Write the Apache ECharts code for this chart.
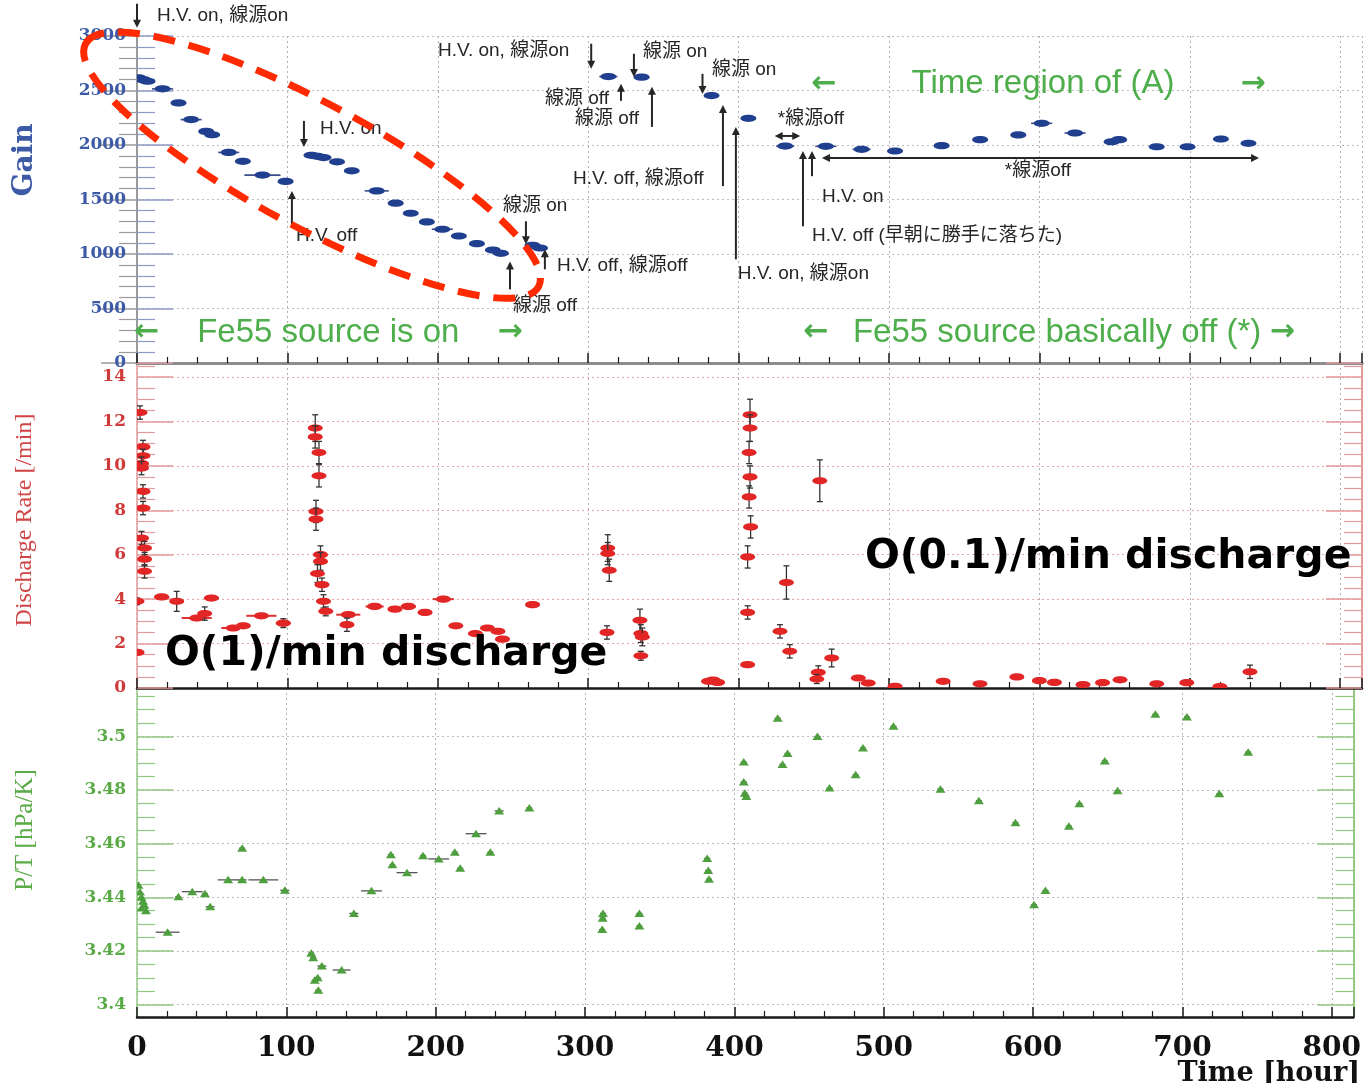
<!DOCTYPE html>
<html><head><meta charset="utf-8">
<script src="https://cdn.jsdelivr.net/npm/echarts@6/dist/echarts.min.js"></script>
<style>html,body{margin:0;padding:0;background:#fff}#c{width:1364px;height:1083px}</style>
</head><body><div id="c"></div>
<script>
// ---------- data (hours, value, half-span in hours, [error]) ----------
const hourTicks = [0, 100, 200, 300, 400, 500, 600, 700, 800];
const gainTicks = [0, 500, 1000, 1500, 2000, 2500, 3000];
const rateTicks = [0, 2, 4, 6, 8, 10, 12, 14];
const ptTicks = [3.4, 3.42, 3.44, 3.46, 3.48, 3.5];

const gainPoints = [
  [1, 2615, 3], [4, 2600, 3], [7, 2585, 3], [17, 2515, 7], [27.6, 2386, 3], [36, 2233, 7],
  [46, 2125, 3], [50, 2094, 3], [61, 1932, 7], [70.4, 1850, 3], [83.4, 1724, 12], [98.8, 1666, 4],
  [116, 1905, 3], [120, 1896, 4], [124, 1885, 3], [133, 1846, 4], [142.8, 1763, 4], [159.4, 1579, 8],
  [172, 1466, 4], [182, 1374, 4], [192.7, 1294, 4], [203, 1227, 7], [214, 1165, 4], [226, 1095, 5],
  [236.6, 1036, 4], [242, 1006, 4], [263, 1080, 3], [268, 1055, 3],
  [313.4, 2628, 6], [335.5, 2622, 5], [382, 2453, 5], [406.5, 2245, 5],
  [431, 1990, 6], [458, 1988, 7], [481.8, 1960, 6], [504, 1945, 4], [535, 1994, 3], [560.6, 2049, 3],
  [586, 2092, 3], [601.5, 2199, 7], [623.7, 2110, 7], [648, 2030, 3], [653, 2049, 3], [678, 1984, 3],
  [698.5, 1984, 3], [720.7, 2055, 3], [739, 2015, 3]
];

const dischargePoints = [
  [2, 12.4, 2, 0.3], [4, 10.85, 2, 0.3], [4, 10.45, 2, 0.3], [3, 10.1, 2, 0.3], [3, 9.9, 2, 0.3],
  [4, 8.85, 2, 0.3], [4, 8.1, 2, 0.3], [3, 6.75, 2, 0.3], [5, 6.3, 2, 0.3], [5, 5.8, 2, 0.3],
  [5, 5.25, 2, 0.3], [0, 3.9, 3, 0.15], [0, 1.6, 3, 0.1], [16.4, 4.1, 5, 0.1], [26.4, 3.9, 3, 0.45],
  [39.7, 3.15, 10, 0.1], [45, 3.35, 3, 0.3], [49.5, 4.05, 5, 0.1], [64, 2.7, 8, 0.1], [70.7, 2.8, 3, 0.1],
  [82.7, 3.25, 10, 0.1], [97.3, 2.92, 5, 0.2],
  [118.5, 11.7, 2, 0.6], [118.5, 11.3, 2, 0.5], [121, 10.6, 2, 0.5], [121, 9.55, 2, 0.5], [119, 7.95, 2, 0.5],
  [119, 7.6, 2, 0.5], [122, 6.0, 2, 0.4], [122, 5.7, 2, 0.4], [120, 5.15, 2, 0.4], [123, 4.65, 2, 0.3],
  [124, 3.9, 2, 0.3], [125.5, 3.45, 3, 0.2], [140.5, 3.3, 8, 0.1], [139.6, 2.85, 2, 0.3],
  [158, 3.67, 6, 0.1], [171.5, 3.55, 4, 0.1], [180.4, 3.67, 5, 0.1], [191.5, 3.4, 4, 0.1], [203.7, 4.0, 7, 0.1],
  [212, 2.8, 4, 0.1], [225, 2.45, 4, 0.1], [233, 2.7, 3, 0.1], [240, 2.55, 3, 0.1], [243, 2.2, 3, 0.1],
  [263, 3.75, 3, 0.1],
  [313, 6.3, 3, 0.6], [313, 6.05, 3, 0.5], [314, 5.3, 3, 0.5], [312.5, 2.5, 3, 0.3],
  [334.4, 3.05, 3, 0.5], [335, 2.45, 3, 0.4], [336, 2.3, 3, 0.4], [335, 1.45, 3, 0.2],
  [380, 0.3, 4, 0.1], [383, 0.35, 4, 0.1], [386, 0.25, 3, 0.1],
  [407.6, 12.3, 3, 0.7], [407.6, 11.7, 3, 0.6], [407, 10.6, 3, 0.5], [407.6, 9.5, 3, 0.5], [407, 8.6, 3, 0.5],
  [408, 7.25, 3, 0.5], [406, 5.9, 3, 0.5], [406, 3.4, 3, 0.3], [406, 1.05, 3, 0.1],
  [454, 9.33, 4, 0.94], [431.8, 4.75, 3, 0.75], [427.5, 2.55, 3, 0.3], [434, 1.65, 3, 0.3],
  [461.9, 1.35, 3, 0.4], [453, 0.7, 3, 0.3], [452, 0.4, 3, 0.2], [479.6, 0.45, 3, 0.1], [486.2, 0.22, 3, 0.1],
  [504, 0.07, 3, 0.05], [536, 0.3, 3, 0.1], [560.5, 0.19, 3, 0.1], [585, 0.5, 3, 0.1], [600, 0.33, 3, 0.1],
  [610, 0.25, 3, 0.1], [629, 0.15, 3, 0.1], [642, 0.24, 3, 0.1], [653.6, 0.37, 3, 0.1], [678, 0.19, 3, 0.1],
  [698, 0.24, 3, 0.1], [720, 0.06, 3, 0.05], [740, 0.73, 3, 0.3]
];

const ptPoints = [
  [1, 3.4445, 1], [2, 3.442, 1], [3, 3.440, 1], [4, 3.4385, 1], [5, 3.437, 1], [6, 3.435, 1], [3, 3.436, 1],
  [20.5, 3.427, 8], [27.7, 3.4402, 2], [37, 3.4421, 7], [45.5, 3.4413, 2], [49, 3.4365, 3],
  [61, 3.4465, 7], [70.4, 3.4465, 3], [84.6, 3.4465, 10], [70.4, 3.4583, 2], [99, 3.4426, 3],
  [116.7, 3.4192, 2], [118, 3.4175, 2], [123.8, 3.4144, 3], [119, 3.4091, 2], [121, 3.410, 2], [121.4, 3.4054, 2],
  [137, 3.4129, 6], [145.2, 3.434, 3], [157, 3.4424, 7], [170, 3.4559, 2], [171, 3.4521, 2], [180.8, 3.4492, 7],
  [191.5, 3.4555, 2], [202, 3.4543, 7], [212.8, 3.4568, 2], [216.4, 3.4508, 2], [227, 3.4637, 7],
  [236.6, 3.4568, 2], [242.5, 3.4722, 3], [262.7, 3.4733, 2],
  [311.8, 3.4322, 2], [312, 3.434, 2], [311.5, 3.428, 2], [336.4, 3.434, 2], [336.4, 3.4293, 2],
  [381.8, 3.4545, 2], [382.5, 3.450, 2], [383, 3.4467, 2],
  [406.3, 3.4904, 2], [406.3, 3.483, 2], [407, 3.4788, 2], [408, 3.4776, 2],
  [429, 3.5067, 2], [435.6, 3.4936, 2], [432.2, 3.4895, 2], [455.6, 3.4999, 2], [463.7, 3.4807, 2],
  [481.2, 3.4857, 2], [486.1, 3.4956, 2], [506.5, 3.5037, 2], [538, 3.4803, 2], [563.7, 3.476, 2],
  [588.2, 3.4678, 2], [600.6, 3.4372, 2], [608.3, 3.4425, 2], [624, 3.4665, 2], [631, 3.4749, 2],
  [648, 3.4908, 2], [656.6, 3.4797, 2], [681.9, 3.5082, 2], [703, 3.5072, 2], [724.7, 3.4786, 2], [744, 3.4941, 2]
];

// annotations in the Gain panel: [hour, gain tail, gain head]
const gainArrows = [
  [0, 3297, 3076], [111, 2221, 1982], [103, 1264, 1577], [302, 2929, 2699], [330.4, 2837, 2625],
  [376, 2653, 2469], [321.8, 2405, 2561], [342.4, 2166, 2534], [389.6, 1623, 2368], [398.2, 951, 2166],
  [442.8, 1254, 1945], [448.8, 1714, 1945], [258.6, 1300, 1089], [271.2, 859, 1043], [248, 675, 932]
];
// double-headed horizontal arrows: [hour from, hour to, gain]
const gainSpans = [[424, 441, 2083], [455.4, 746, 1880]];
// [text, hour (left edge), gain (middle)]
const gainNotes = [
  ['H.V. on, 線源on', 13.3, 3187], ['H.V. on', 121.7, 2147], ['H.V. off', 105.7, 1163],
  ['H.V. on, 線源on', 200.1, 2865], ['線源 on', 336.4, 2855], ['線源 on', 382.3, 2690],
  ['線源 off', 271.2, 2423], ['線源 off', 291.2, 2239], ['H.V. off, 線源off', 289.9, 1687],
  ['H.V. on, 線源on', 399.4, 822], ['*線源off', 426.1, 2239], ['H.V. on', 455.4, 1521],
  ['H.V. off (早朝に勝手に落ちた)', 448.8, 1171], ['*線源off', 577, 1761], ['線源 on', 243.3, 1439],
  ['H.V. off, 線源off', 279.2, 895], ['線源 off', 250, 527]
];
// [text, hour, gain, align, isArrow]
const greenNotes = [
  ['←', 6.6, 278, 'center', true], ['Fe55 source is on', 40, 278, 'left', false], ['→', 248, 278, 'center', true],
  ['←', 456.8, 2561, 'center', true], ['Time region of (A)', 515, 2561, 'left', false], ['→', 742, 2561, 'center', true],
  ['←', 451.5, 278, 'center', true], ['Fe55 source basically off (*)', 476, 278, 'left', false], ['→', 761.5, 278, 'center', true]
];

// ---------- chart ----------
const chart = echarts.init(document.getElementById('c'), null, {renderer: 'canvas'});
const XMAX = 814.5;
const serif = '"DejaVu Serif", "Liberation Serif", serif';
const grids = [
  {left: 137, right: 2, top: 36, height: 327},
  {left: 137, right: 2, top: 363, height: 325},
  {left: 137, right: 2, top: 688, height: 329}
];
const plain = v => String(v);
function xAx(g, showLabel) {
  return {
    type: 'value', gridIndex: g, min: 0, max: XMAX, interval: 100,
    axisLine: {show: true, onZero: false, lineStyle: {color: '#1a1a1a', width: 2.5}},
    axisTick: {show: true, inside: true, length: 10, lineStyle: {color: '#1a1a1a', width: 1.5}},
    minorTick: {show: true, splitNumber: 5, length: 6, lineStyle: {color: '#1a1a1a', width: 1.2}},
    splitLine: {show: true, lineStyle: {color: '#b0b0b0', type: [2, 3], width: 1}},
    axisLabel: {show: showLabel, color: '#111', fontFamily: serif, fontWeight: 'bold', fontSize: 28, margin: 18,
      customValues: hourTicks, formatter: plain}
  };
}
const topFrame = {
  type: 'value', gridIndex: 0, position: 'top', min: 0, max: XMAX,
  axisLine: {show: true, lineStyle: {color: '#8c8c8c', width: 3}},
  axisTick: {show: false}, axisLabel: {show: false}, splitLine: {show: false}
};
function yAx(g, pos, o) {
  const isLeft = pos === 'left';
  const a = {
    type: 'value', gridIndex: g, position: pos, min: o.min, max: o.max,
    axisLine: {show: true, lineStyle: {color: o.line, width: isLeft ? 1.5 : 2}},
    axisTick: {show: true, inside: true, length: 36, lineStyle: {color: o.line, width: 1.5}},
    minorTick: {show: true, splitNumber: o.minor || 5, length: 18, lineStyle: {color: o.line, width: 1.2}},
    splitLine: {show: isLeft, lineStyle: {color: o.grid, type: [2, 3], width: 1}},
    axisLabel: {show: isLeft, color: o.label, fontFamily: serif, fontWeight: 'bold', fontSize: 17, margin: 11,
      showMaxLabel: o.showMax !== false, formatter: plain}
  };
  if (o.interval) a.interval = o.interval;
  if (o.custom) {
    a.axisLabel.customValues = o.custom;
    a.axisTick.customValues = o.custom;
    a.minorTick.show = false;
  }
  return a;
}
const gainOpt = {min: 0, max: 3000, interval: 500, minor: 5, line: '#8d99c4', grid: '#bdbdbd', label: '#3c5aa6'};
const rateOpt = {min: 0, max: 14.63, interval: 2, minor: 4, line: '#e39a9a', grid: '#e8a6a6', label: '#cf3a3a', showMax: false};
const ptOpt = {min: 3.3954, max: 3.518, custom: ptTicks, line: '#93c883', grid: '#bcbcbc', label: '#5aaa46'};
const ptMinor = [];
for (let k = 0; k <= 23; k++) { if (k % 4) ptMinor.push(+(3.4 + 0.005 * k).toFixed(3)); }
function minorAx(pos) {
  return {
    type: 'value', gridIndex: 2, position: pos, min: ptOpt.min, max: ptOpt.max,
    axisLine: {show: false},
    axisTick: {show: true, inside: true, length: 18, customValues: ptMinor, lineStyle: {color: ptOpt.line, width: 1.2}},
    axisLabel: {show: false, customValues: ptMinor}, splitLine: {show: false}
  };
}

function renderGain(params, api) {
  const x = api.value(0), y = api.value(1), dx = api.value(2);
  const c = api.coord([x, y]), l = api.coord([x - dx, y]), r = api.coord([x + dx, y]);
  return {type: 'group', children: [
    {type: 'line', shape: {x1: l[0], y1: l[1], x2: r[0], y2: r[1]}, style: {stroke: '#3a4c86', lineWidth: 1.6}},
    {type: 'ellipse', shape: {cx: c[0], cy: c[1], rx: 8, ry: 3.6}, style: {fill: '#203f8f'}}
  ]};
}
function renderRate(params, api) {
  const x = api.value(0), y = api.value(1), dx = api.value(2), dy = api.value(3);
  const c = api.coord([x, y]), l = api.coord([x - dx, y]), r = api.coord([x + dx, y]);
  const t = api.coord([x, y + dy]), b = api.coord([x, Math.max(0, y - dy)]);
  return {type: 'group', children: [
    {type: 'line', shape: {x1: t[0], y1: t[1], x2: b[0], y2: b[1]}, style: {stroke: '#333', lineWidth: 1.3}},
    {type: 'line', shape: {x1: t[0] - 3, y1: t[1], x2: t[0] + 3, y2: t[1]}, style: {stroke: '#333', lineWidth: 1.3}},
    {type: 'line', shape: {x1: b[0] - 3, y1: b[1], x2: b[0] + 3, y2: b[1]}, style: {stroke: '#333', lineWidth: 1.3}},
    {type: 'line', shape: {x1: l[0], y1: l[1], x2: r[0], y2: r[1]}, style: {stroke: '#e03030', lineWidth: 2}},
    {type: 'ellipse', shape: {cx: c[0], cy: c[1], rx: 7.5, ry: 3.6}, style: {fill: '#e22626'}}
  ]};
}
function renderPT(params, api) {
  const x = api.value(0), y = api.value(1), dx = api.value(2);
  const c = api.coord([x, y]), l = api.coord([x - dx, y]), r = api.coord([x + dx, y]);
  return {type: 'group', children: [
    {type: 'line', shape: {x1: l[0], y1: l[1], x2: r[0], y2: r[1]}, style: {stroke: '#555', lineWidth: 1.3}},
    {type: 'polygon', shape: {points: [[c[0] - 5, c[1] + 3.5], [c[0] + 5, c[1] + 3.5], [c[0], c[1] - 4]]}, style: {fill: '#4e9f3d'}}
  ]};
}

chart.setOption({
  animation: false,
  backgroundColor: '#ffffff',
  grid: grids,
  xAxis: [xAx(0, false), xAx(1, false), xAx(2, true), topFrame],
  yAxis: [
    yAx(0, 'left', gainOpt), yAx(1, 'left', rateOpt), yAx(2, 'left', ptOpt),
    yAx(0, 'right', Object.assign({}, gainOpt, {line: '#9a9a9a'})),
    yAx(1, 'right', rateOpt), yAx(2, 'right', ptOpt),
    minorAx('left'), minorAx('right')
  ],
  series: [
    {type: 'custom', xAxisIndex: 0, yAxisIndex: 0, renderItem: renderGain, data: gainPoints, clip: true, z: 5},
    {type: 'custom', xAxisIndex: 1, yAxisIndex: 1, renderItem: renderRate, data: dischargePoints, clip: true, z: 5},
    {type: 'custom', xAxisIndex: 2, yAxisIndex: 2, renderItem: renderPT, data: ptPoints, clip: true, z: 5}
  ]
});

// ---------- annotations ----------
function gp(x, g) { return chart.convertToPixel({xAxisIndex: 0, yAxisIndex: 0}, [x, g]); }
const ink = '#262626';
const noteFont = '"Liberation Sans", "Noto Sans CJK JP", sans-serif';
const els = [];
function head(tip, dirx, diry) {
  const L = 8, W = 4;
  const bx = tip[0] - dirx * L, by = tip[1] - diry * L;
  return {type: 'polygon', shape: {points: [[tip[0], tip[1]], [bx - diry * W, by + dirx * W], [bx + diry * W, by - dirx * W]]},
    style: {fill: ink}, z: 20};
}
gainArrows.forEach(a => {
  const p1 = gp(a[0], a[1]), p2 = gp(a[0], a[2]);
  const d = p2[1] > p1[1] ? 1 : -1;
  els.push({type: 'line', shape: {x1: p1[0], y1: p1[1], x2: p2[0], y2: p2[1] - d * 6}, style: {stroke: ink, lineWidth: 2}, z: 20});
  els.push(head(p2, 0, d));
});
gainSpans.forEach(s => {
  const p1 = gp(s[0], s[2]), p2 = gp(s[1], s[2]);
  els.push({type: 'line', shape: {x1: p1[0] + 6, y1: p1[1], x2: p2[0] - 6, y2: p2[1]}, style: {stroke: ink, lineWidth: 2}, z: 20});
  els.push(head(p1, -1, 0));
  els.push(head(p2, 1, 0));
});
gainNotes.forEach(n => {
  const p = gp(n[1], n[2]);
  els.push({type: 'text', x: p[0], y: p[1], z: 20,
    style: {text: n[0], fill: '#262626', font: '19px ' + noteFont, align: 'left', verticalAlign: 'middle'}});
});
greenNotes.forEach(n => {
  const p = gp(n[1], n[2]);
  const font = n[4] ? 'bold 30px "DejaVu Sans", sans-serif' : '33px ' + noteFont;
  els.push({type: 'text', x: p[0], y: p[1], z: 20,
    style: {text: n[0], fill: '#4fae4c', font: font, align: n[3], verticalAlign: 'middle'}});
});
// discharge remarks
const r1 = chart.convertToPixel({xAxisIndex: 1, yAxisIndex: 1}, [18.6, 1.5]);
const r2 = chart.convertToPixel({xAxisIndex: 1, yAxisIndex: 1}, [484, 5.9]);
[['O(1)/min discharge', r1], ['O(0.1)/min discharge', r2]].forEach(t => {
  els.push({type: 'text', x: t[1][0], y: t[1][1], z: 30,
    style: {text: t[0], fill: '#000', font: 'bold 41px "DejaVu Sans", sans-serif', align: 'left', verticalAlign: 'middle'}});
});
// dashed highlight ellipse around the Fe55-on gain drop
const ec = gp(116.4, 1815);
els.push({type: 'ellipse', x: ec[0], y: ec[1], rotation: -0.492, z: 40,
  shape: {cx: 0, cy: 0, rx: 257, ry: 62},
  style: {fill: 'none', stroke: '#ff2a00', lineWidth: 7, lineDash: [22, 14]}});
// axis titles
els.push({type: 'text', x: 25, y: 160, rotation: Math.PI / 2, z: 20,
  style: {text: 'Gain', fill: '#3c5aa6', font: 'bold 28px ' + serif, align: 'center', verticalAlign: 'middle'}});
els.push({type: 'text', x: 25, y: 520, rotation: Math.PI / 2, z: 20,
  style: {text: 'Discharge Rate [/min]', fill: '#d04444', font: '24px "Liberation Serif", serif', align: 'center', verticalAlign: 'middle'}});
els.push({type: 'text', x: 25, y: 830, rotation: Math.PI / 2, z: 20,
  style: {text: 'P/T [hPa/K]', fill: '#5aaa46', font: '25px "Liberation Serif", serif', align: 'center', verticalAlign: 'middle'}});
els.push({type: 'text', x: 1360, y: 1074, z: 20,
  style: {text: 'Time [hour]', fill: '#111', font: 'bold 27px ' + serif, align: 'right', verticalAlign: 'middle'}});

chart.setOption({graphic: {elements: els}});
</script></body></html>
